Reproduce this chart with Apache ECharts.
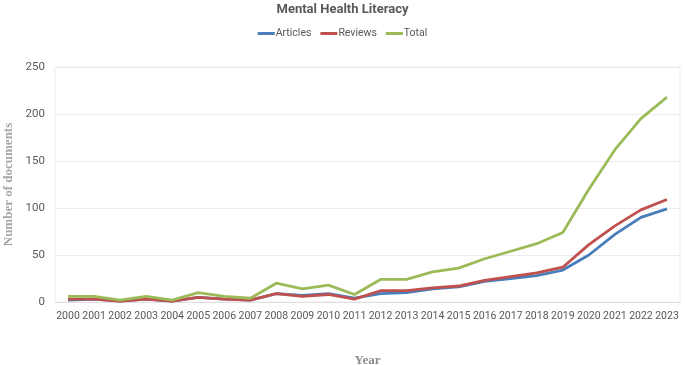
<!DOCTYPE html>
<html>
<head>
<meta charset="utf-8">
<script src="https://cdn.jsdelivr.net/npm/echarts@6/dist/echarts.min.js"></script>
<style>
  html, body { margin: 0; padding: 0; background: #fff; }
  #chart { width: 685px; height: 365px; }
</style>
</head>
<body>
<div id="chart"></div>
<script>
const years = ['2000', '2001', '2002', '2003', '2004', '2005', '2006', '2007', '2008', '2009', '2010', '2011',
  '2012', '2013', '2014', '2015', '2016', '2017', '2018', '2019', '2020', '2021', '2022', '2023'];
const articles = [2, 3, 1, 3, 1, 5, 3, 2, 9, 7, 9, 4, 9, 10, 14, 16, 22, 25, 28, 34, 50, 72, 90, 99];
const reviews = [3, 3, 1, 3, 1, 5, 3, 2, 9, 6, 8, 3, 12, 12, 15, 17, 23, 27, 31, 37, 61, 81, 98, 109];
const total = [6, 6, 2, 6, 2, 10, 6, 4, 20, 14, 18, 8, 24, 24, 32, 36, 46, 54, 62, 74, 120, 162, 195, 218];

const textColor = '#595959';
const sans = 'Roboto, "Open Sans", sans-serif';
const chart = echarts.init(document.getElementById('chart'));

const lineSeries = (name, data, color) => ({
  name,
  type: 'line',
  data,
  symbol: 'none',
  lineStyle: { color, width: 2.8 },
  itemStyle: { color }
});

chart.setOption({
  animation: false,
  title: {
    text: 'Mental Health Literacy',
    left: 'center',
    top: -2,
    textStyle: { fontFamily: sans, fontSize: 13, fontWeight: 'bold', color: textColor }
  },
  legend: {
    top: 23,
    left: 'center',
    itemWidth: 17,
    itemHeight: 3,
    itemGap: 9,
    icon: 'rect',
    textStyle: { fontFamily: sans, fontSize: 10.5, color: textColor, padding: [0, 0, 0, -4] },
    data: ['Articles', 'Reviews', 'Total']
  },
  grid: {
    left: 55, right: 5, top: 67, bottom: 63,
    outerBoundsMode: 'none',
    show: true, borderColor: '#ececec', borderWidth: 1
  },
  xAxis: {
    type: 'category',
    data: years,
    boundaryGap: true,
    name: 'Year',
    nameLocation: 'middle',
    nameGap: 52,
    nameTextStyle: { fontFamily: 'Liberation Serif', fontWeight: 'bold', fontSize: 13, color: '#8c8c8c' },
    axisLine: { lineStyle: { color: '#e0e0e0' } },
    axisTick: { show: false },
    axisLabel: { color: textColor, fontFamily: sans, fontSize: 10.5, margin: 9, interval: 0 }
  },
  yAxis: {
    type: 'value',
    min: 0,
    max: 250,
    interval: 50,
    name: 'Number of documents',
    nameLocation: 'middle',
    nameGap: 40,
    nameTextStyle: { fontFamily: 'Liberation Serif', fontWeight: 'bold', fontSize: 13, color: '#a6a6a6' },
    axisLine: { show: false },
    axisTick: { show: false },
    axisLabel: { color: textColor, fontFamily: sans, fontSize: 11.5, margin: 10 },
    splitLine: { lineStyle: { color: '#ececec' } }
  },
  series: [
    lineSeries('Articles', articles, '#4a7ebb'),
    lineSeries('Reviews', reviews, '#c0504d'),
    lineSeries('Total', total, '#9bbb59')
  ]
});
</script>
</body>
</html>
